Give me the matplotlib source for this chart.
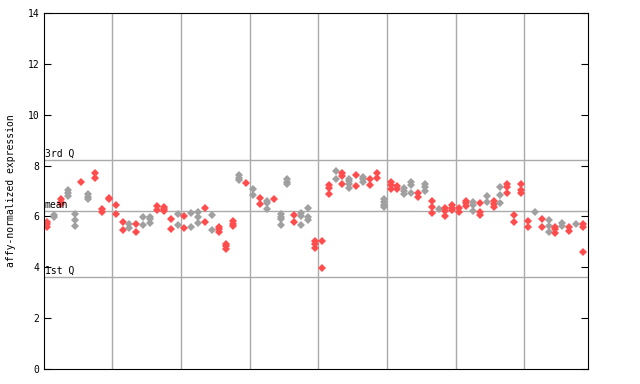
import matplotlib
matplotlib.use('Agg')
import matplotlib.pyplot as plt

# values per sample column (replicates)
values = [
    [5.79, 5.69, 5.58], [6.06, 5.98], [6.67, 6.58, 6.48], [7.03, 6.91, 6.80], [6.08, 5.86, 5.62],
    [7.37], [6.87, 6.78, 6.67], [7.71, 7.51], [6.28, 6.19], [6.74, 6.69],
    [6.46, 6.08], [5.77, 5.45], [5.69, 5.56], [5.71, 5.38], [5.96, 5.65],
    [5.99, 5.89, 5.74], [6.42, 6.24], [6.38, 6.29, 6.20], [5.89, 5.49], [6.08, 5.66],
    [6.00, 5.54], [6.12, 5.60], [6.17, 5.96, 5.73], [6.32, 5.79], [6.04, 5.47],
    [5.60, 5.49, 5.39], [4.93, 4.82, 4.72], [5.82, 5.71, 5.61], [7.63, 7.52, 7.42], [7.31],
    [7.08, 6.83], [6.74, 6.48], [6.61, 6.51, 6.29], [6.67], [6.10, 5.99, 5.89, 5.68],
    [7.47, 7.37, 7.26], [6.04, 5.79], [6.12, 6.03, 5.68], [6.32, 5.96, 5.86], [5.03, 4.93, 4.74],
    [5.05, 3.96], [7.24, 7.12, 6.87], [7.77, 7.46], [7.69, 7.60, 7.27], [7.49, 7.39, 7.27, 7.11],
    [7.64, 7.20], [7.56, 7.47, 7.37], [7.48, 7.22], [7.69, 7.52], [6.67, 6.57, 6.46, 6.36],
    [7.34, 7.22, 7.07], [7.18, 7.08], [7.11, 6.99, 6.88], [7.34, 7.22, 6.91], [6.94, 6.78],
    [7.26, 7.14, 6.99], [6.62, 6.36, 6.12], [6.28], [6.32, 6.23, 6.03], [6.43, 6.32, 6.25],
    [6.32, 6.19], [6.62, 6.51, 6.41], [6.55, 6.46, 6.23], [6.51, 6.16, 6.04], [6.79, 6.55],
    [6.62, 6.48, 6.37], [7.14, 6.83, 6.51], [7.26, 7.14, 6.94], [6.04, 5.79], [7.27, 7.04, 6.94],
    [5.83, 5.57], [6.19], [5.89, 5.60], [5.84, 5.61, 5.39], [5.57, 5.49, 5.33],
    [5.74, 5.62], [5.60, 5.41], [5.69], [5.69, 5.60, 4.59],
]
colors = list(
    'rgrggrgrrr'
    'rrgrggrrrg'
    'rggrgrrrgr'
    'grgrggrggr'
    'rrgrgrgrrg'
    'rrggrgrgrr'
    'rrgrgrgrrr'
    'rgrgrgrgr'
)
q1, mean, q3 = 3.62, 6.21, 8.22
n_groups = 8

fig = plt.figure(figsize=(6.4, 3.84), dpi=100)
ax = fig.add_axes([44 / 640, 15 / 384, 544 / 640, 356 / 384])

palette = {'r': '#ff4d4d', 'g': '#a0a0a0'}
for i, vals in enumerate(values):
    ax.plot([i] * len(vals), vals, linestyle='none', marker='D', ms=3.6,
            color=palette[colors[i]], mew=0)

for b in range(1, n_groups):
    ax.axvline(b * 10 - 0.5, color='#aaaaaa', lw=1, zorder=0)
for v in (q1, mean, q3):
    ax.axhline(v, color='#aaaaaa', lw=1, zorder=0)

font = dict(family='DejaVu Sans Mono', fontsize=7)
ax.text(-0.35, q3 + 0.05, '3rd Q', va='bottom', ha='left', **font)
ax.text(-0.35, mean + 0.05, 'mean', va='bottom', ha='left', **font)
ax.text(-0.35, q1 + 0.05, '1st Q', va='bottom', ha='left', **font)

ax.set_xlim(-0.44, 78.75)
ax.set_ylim(0, 14)
ax.set_yticks(range(0, 15, 2))
ax.set_xticks([])
ax.tick_params(axis='y', direction='in', length=5, right=True, labelsize=7)
for lab in ax.get_yticklabels():
    lab.set_family('DejaVu Sans Mono')
ax.set_ylabel('affy-normalized expression', family='DejaVu Sans Mono', fontsize=7, labelpad=8)

fig.savefig('out.png', dpi=100)
